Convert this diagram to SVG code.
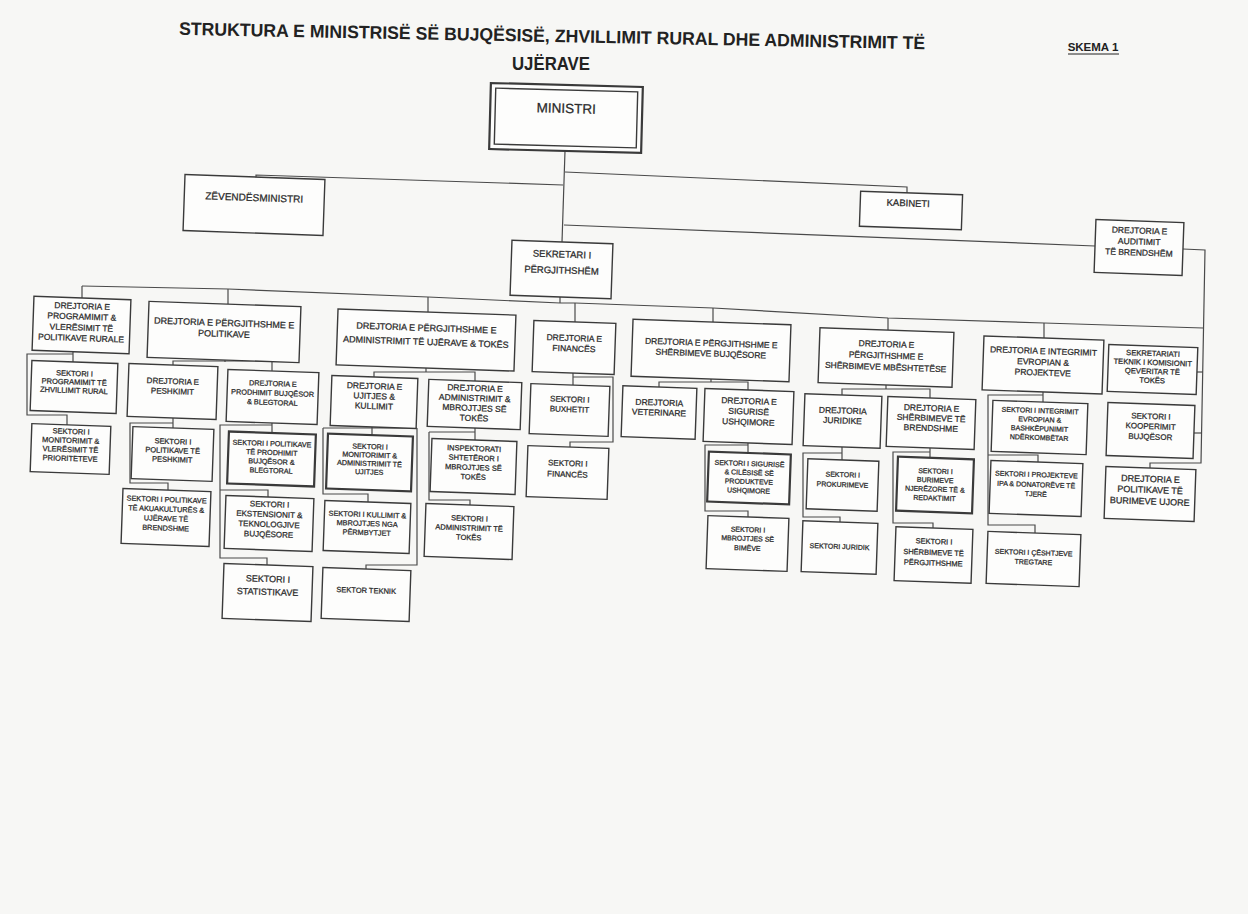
<svg xmlns="http://www.w3.org/2000/svg" width="1248" height="914" viewBox="0 0 1248 914">
<style>
.bg{fill:#f7f7f5}
.box{fill:#fdfdfc;stroke:#3a3a3a;stroke-width:1.4}
.thick{stroke-width:2.2}
.ln{fill:none;stroke:#4a4a4a;stroke-width:1.2}
text{font-family:"Liberation Sans",Arial,sans-serif;fill:#2a2a2a;text-anchor:middle;stroke:#2a2a2a;stroke-width:0.25}
.f13{font-size:13.5px}
.f10{font-size:10px}
.f95{font-size:9.5px}
.f9{font-size:9px}
.f85{font-size:8.5px}
.f8{font-size:8px}
.f76{font-size:7.6px}
.f75{font-size:7.5px}
.f73{font-size:7.3px}
.f72{font-size:7.2px}
.f7{font-size:7px}
.title{font-size:18px;font-weight:bold;fill:#222;stroke:none}
</style>
<rect class="bg" x="0" y="0" width="1248" height="914"/>

<g id="title">
<text class="title" x="552" y="42" transform="rotate(1.1 552 42)" textLength="746" lengthAdjust="spacingAndGlyphs">STRUKTURA E MINISTRISË SË BUJQËSISË, ZHVILLIMIT RURAL DHE ADMINISTRIMIT TË</text>
<text class="title" x="551" y="70" textLength="78" lengthAdjust="spacingAndGlyphs">UJËRAVE</text>
<text x="1093" y="51" style="font-size:11.5px;font-weight:bold;fill:#222;stroke:none">SKEMA 1</text>
<line x1="1068" y1="54" x2="1119" y2="54" stroke="#222" stroke-width="1"/>
</g>

<g id="connectors" class="ln">
<path d="M565,151 L562,242"/>
<path d="M563,185 L256,175 V177"/>
<path d="M565,172 L907,187 V193"/>
<path d="M564,225 L1095,246"/>
<path d="M1183,249 L1205,250 L1201,463 H1150 V468"/>
<path d="M1197,372 H1203"/>
<path d="M1194,433 H1202"/>
<path d="M560,297 V303"/>
<path d="M82,286 L228,289 L428,297 L560,303 L575,303 L713,308 L888,318 L1044,323 L1203,328"/>
<path d="M82,286 V298"/>
<path d="M228,289 V304"/>
<path d="M428,297 V312"/>
<path d="M575,303 V322"/>
<path d="M713,308 V322"/>
<path d="M888,318 V330"/>
<path d="M1044,323 V338"/>
<path d="M73,352 V362 M73,354 H27 V415 H67 V425"/>
<path d="M225,360 V362 M173,365 V361 H272 V371"/>
<path d="M173,418 V428 M173,423 H130 V483 H168 V490"/>
<path d="M272,423 V433 M272,425 H220 V558 H267 V565 M220,490 H268 V497"/>
<path d="M426,368 V372 M374,377 V372 H475 V381"/>
<path d="M372,427 V435 M323,428 H417 M323,428 V494 H368 V502 M417,428 V565 H366 V569"/>
<path d="M475,428 V440 M429,432 H475 M429,432 V500 H470 V505"/>
<path d="M573,373 V385 M573,377 H613 V442 H570 V447"/>
<path d="M711,379 V382 M659,387 V382 H748 V390"/>
<path d="M748,443 V453 M748,445 H705 V511 H748 V517"/>
<path d="M886,385 V389 M842,395 V389 H930 V398"/>
<path d="M842,447 V460 M842,453 H803 V517 H840 V522"/>
<path d="M930,448 V458 M930,452 H893 V523 H933 V528"/>
<path d="M1043,392 V402 M1043,395 H988 V525 H1035 V533 M988,455 H1038 V462"/>
</g>

<g id="n_min" transform="rotate(1.5 566 118)">
<rect class="box thick" x="490" y="85" width="152" height="66"/>
<rect class="box" x="495" y="90" width="142" height="56"/>
<text class="f13" x="566" y="113">MINISTRI</text>
</g>
<g id="n_zev" transform="rotate(2 254 205)">
<rect class="box" x="184" y="177" width="140" height="56"/>
<text class="f10" x="254" y="201">ZËVENDËSMINISTRI</text>
</g>
<g id="n_kab" transform="rotate(2 911 210.5)">
<rect class="box" x="860" y="193" width="102" height="35"/>
<text class="f95" x="908" y="206.5">KABINETI</text>
</g>
<g id="n_sek" transform="rotate(2 561.5 269.5)">
<rect class="box" x="511" y="242" width="101" height="55"/>
<text class="f95" x="561.5" y="257.5">SEKRETARI I</text>
<text class="f95" x="561.5" y="273.5">PËRGJITHSHËM</text>
</g>
<g id="n_aud" transform="rotate(2 1139 247.5)">
<rect class="box" x="1095" y="221" width="88" height="53"/>
<text class="f85" x="1139" y="233.5">DREJTORIA E</text>
<text class="f85" x="1139" y="244.5">AUDITIMIT</text>
<text class="f85" x="1139" y="255.5">TË BRENDSHËM</text>
</g>

<g id="n_d1" transform="rotate(2 81.5 325)">
<rect class="box" x="33" y="298" width="97" height="54"/>
<text class="f85" x="81.5" y="309">DREJTORIA E</text>
<text class="f85" x="81.5" y="319.5">PROGRAMIMIT &amp;</text>
<text class="f85" x="81.5" y="330.5">VLERËSIMIT TË</text>
<text class="f85" x="81.5" y="341">POLITIKAVE RURALE</text>
</g>
<g id="n_d1a" transform="rotate(2 74 387)">
<rect class="box" x="31" y="362" width="86" height="50"/>
<text class="f75" x="74" y="376">SEKTORI I</text>
<text class="f75" x="74" y="384.5">PROGRAMIMIT TË</text>
<text class="f75" x="74" y="393">ZHVILLIMIT RURAL</text>
</g>
<g id="n_d1b" transform="rotate(2 70.5 449)">
<rect class="box" x="31" y="425" width="79" height="48"/>
<text class="f75" x="70.5" y="434">SEKTORI I</text>
<text class="f75" x="70.5" y="443">MONITORIMIT &amp;</text>
<text class="f75" x="70.5" y="452">VLERËSIMIT TË</text>
<text class="f75" x="70.5" y="461">PRIORITETEVE</text>
</g>

<g id="n_d2" transform="rotate(2 224 332)">
<rect class="box" x="148" y="304" width="152" height="56"/>
<text class="f9" x="224" y="326">DREJTORIA E PËRGJITHSHME E</text>
<text class="f9" x="224" y="337">POLITIKAVE</text>
</g>
<g id="n_d2a" transform="rotate(2 172.5 391.5)">
<rect class="box" x="128" y="365" width="89" height="53"/>
<text class="f8" x="172.5" y="384">DREJTORIA E</text>
<text class="f8" x="172.5" y="394">PESHKIMIT</text>
</g>
<g id="n_d2a1" transform="rotate(2 172.5 454)">
<rect class="box" x="132" y="428" width="81" height="52"/>
<text class="f75" x="172.5" y="444">SEKTORI I</text>
<text class="f75" x="172.5" y="453">POLITIKAVE TË</text>
<text class="f75" x="172.5" y="462">PESHKIMIT</text>
</g>
<g id="n_d2a2" transform="rotate(2 166 517.5)">
<rect class="box" x="122" y="490" width="88" height="55"/>
<text class="f73" x="166" y="502">SEKTORI I POLITIKAVE</text>
<text class="f73" x="166" y="511.5">TË AKUAKULTURËS &amp;</text>
<text class="f73" x="166" y="521">UJËRAVE TË</text>
<text class="f73" x="166" y="530.5">BRENDSHME</text>
</g>
<g id="n_d2b" transform="rotate(2 272.5 397)">
<rect class="box" x="227" y="371" width="91" height="52"/>
<text class="f73" x="272.5" y="386">DREJTORIA E</text>
<text class="f73" x="272.5" y="395.5">PRODHIMIT BUJQËSOR</text>
<text class="f73" x="272.5" y="405">&amp; BLEGTORAL</text>
</g>
<g id="n_d2b1" transform="rotate(2 271.5 459)">
<rect class="box thick" x="228" y="433" width="87" height="52"/>
<text class="f72" x="271.5" y="446">SEKTORI I POLITIKAVE</text>
<text class="f72" x="271.5" y="455">TË PRODHIMIT</text>
<text class="f72" x="271.5" y="464">BUJQËSOR &amp;</text>
<text class="f72" x="271.5" y="473">BLEGTORAL</text>
</g>
<g id="n_d2b2" transform="rotate(2 269 523.5)">
<rect class="box" x="225" y="497" width="88" height="53"/>
<text class="f8" x="269" y="507">SEKTORI I</text>
<text class="f8" x="269" y="517">EKSTENSIONIT &amp;</text>
<text class="f8" x="269" y="527">TEKNOLOGJIVE</text>
<text class="f8" x="269" y="537">BUJQËSORE</text>
</g>
<g id="n_d2b3" transform="rotate(2 267.5 592.5)">
<rect class="box" x="223" y="565" width="89" height="55"/>
<text class="f9" x="267.5" y="582">SEKTORI I</text>
<text class="f9" x="267.5" y="595">STATISTIKAVE</text>
</g>

<g id="n_d3" transform="rotate(2 426 340)">
<rect class="box" x="337" y="312" width="178" height="56"/>
<text class="f9" x="426" y="331">DREJTORIA E PËRGJITHSHME E</text>
<text class="f9" x="426" y="345">ADMINISTRIMIT TË UJËRAVE &amp; TOKËS</text>
</g>
<g id="n_d3a" transform="rotate(2 374 402)">
<rect class="box" x="331" y="377" width="86" height="50"/>
<text class="f85" x="374" y="389">DREJTORIA E</text>
<text class="f85" x="374" y="399">UJITJES &amp;</text>
<text class="f85" x="374" y="409">KULLIMIT</text>
</g>
<g id="n_d3a1" transform="rotate(2 369.5 462.5)">
<rect class="box thick" x="327" y="435" width="85" height="55"/>
<text class="f72" x="369.5" y="449">SEKTORI I</text>
<text class="f72" x="369.5" y="457.5">MONITORIMIT &amp;</text>
<text class="f72" x="369.5" y="466">ADMINISTRIMIT TË</text>
<text class="f72" x="369.5" y="474.5">UJITJES</text>
</g>
<g id="n_d3a2" transform="rotate(2 367 527)">
<rect class="box" x="324" y="502" width="86" height="50"/>
<text class="f73" x="367" y="517">SEKTORI I KULLIMIT &amp;</text>
<text class="f73" x="367" y="526">MBROJTJES NGA</text>
<text class="f73" x="367" y="535">PËRMBYTJET</text>
</g>
<g id="n_d3a3" transform="rotate(2 366 594.5)">
<rect class="box" x="322" y="569" width="88" height="51"/>
<text class="f75" x="366" y="593">SEKTOR TEKNIK</text>
</g>
<g id="n_d3b" transform="rotate(2 474.5 404.5)">
<rect class="box" x="428" y="381" width="93" height="47"/>
<text class="f85" x="474.5" y="391">DREJTORIA E</text>
<text class="f85" x="474.5" y="401">ADMINISTRIMIT &amp;</text>
<text class="f85" x="474.5" y="411">MBROJTJES SË</text>
<text class="f85" x="474.5" y="421">TOKËS</text>
</g>
<g id="n_d3b1" transform="rotate(2 473.5 466.5)">
<rect class="box" x="431" y="440" width="85" height="53"/>
<text class="f75" x="473.5" y="451">INSPEKTORATI</text>
<text class="f75" x="473.5" y="460.5">SHTETËROR I</text>
<text class="f75" x="473.5" y="470">MBROJTJES SË</text>
<text class="f75" x="473.5" y="479.5">TOKËS</text>
</g>
<g id="n_d3b2" transform="rotate(2 469 531.5)">
<rect class="box" x="425" y="505" width="88" height="53"/>
<text class="f75" x="469" y="521">SEKTORI I</text>
<text class="f75" x="469" y="530.5">ADMINISTRIMIT TË</text>
<text class="f75" x="469" y="540">TOKËS</text>
</g>

<g id="n_d4" transform="rotate(2 574 347.5)">
<rect class="box" x="533" y="322" width="82" height="51"/>
<text class="f85" x="574" y="341">DREJTORIA E</text>
<text class="f85" x="574" y="351.5">FINANCËS</text>
</g>
<g id="n_d4a" transform="rotate(2 569.5 410)">
<rect class="box" x="530" y="385" width="79" height="50"/>
<text class="f8" x="569.5" y="402">SEKTORI I</text>
<text class="f8" x="569.5" y="412">BUXHETIT</text>
</g>
<g id="n_d4b" transform="rotate(2 567.5 472.5)">
<rect class="box" x="527" y="447" width="81" height="51"/>
<text class="f8" x="567.5" y="466">SEKTORI I</text>
<text class="f8" x="567.5" y="477">FINANCËS</text>
</g>

<g id="n_d5" transform="rotate(2 711 350.5)">
<rect class="box" x="632" y="322" width="158" height="57"/>
<text class="f85" x="711" y="346">DREJTORIA E PËRGJITHSHME E</text>
<text class="f85" x="711" y="356.5">SHËRBIMEVE BUJQËSORE</text>
</g>
<g id="n_d5a" transform="rotate(2 659 412.5)">
<rect class="box" x="622" y="387" width="74" height="51"/>
<text class="f85" x="659" y="405.5">DREJTORIA</text>
<text class="f85" x="659" y="415.5">VETERINARE</text>
</g>
<g id="n_d5b" transform="rotate(2 748.5 416.5)">
<rect class="box" x="704" y="390" width="89" height="53"/>
<text class="f85" x="748.5" y="404">DREJTORIA E</text>
<text class="f85" x="748.5" y="414.5">SIGURISË</text>
<text class="f85" x="748.5" y="425">USHQIMORE</text>
</g>
<g id="n_d5b1" transform="rotate(2 749 478)">
<rect class="box thick" x="708" y="453" width="82" height="50"/>
<text class="f7" x="749" y="466">SEKTORI I SIGURISË</text>
<text class="f7" x="749" y="475">&amp; CILËSISË SË</text>
<text class="f7" x="749" y="484">PRODUKTEVE</text>
<text class="f7" x="749" y="493">USHQIMORE</text>
</g>
<g id="n_d5b2" transform="rotate(2 747.5 543.5)">
<rect class="box" x="707" y="517" width="81" height="53"/>
<text class="f7" x="747.5" y="532">SEKTORI I</text>
<text class="f7" x="747.5" y="541">MBROJTJES SË</text>
<text class="f7" x="747.5" y="550.5">BIMËVE</text>
</g>

<g id="n_d6" transform="rotate(2 886 357.5)">
<rect class="box" x="819" y="330" width="134" height="55"/>
<text class="f85" x="886" y="347">DREJTORIA E</text>
<text class="f85" x="886" y="358.5">PËRGJITHSHME E</text>
<text class="f85" x="886" y="370">SHËRBIMEVE MBËSHTETËSE</text>
</g>
<g id="n_d6a" transform="rotate(2 842.5 421)">
<rect class="box" x="804" y="395" width="77" height="52"/>
<text class="f85" x="842.5" y="413.5">DREJTORIA</text>
<text class="f85" x="842.5" y="423.5">JURIDIKE</text>
</g>
<g id="n_d6a1" transform="rotate(2 842.5 485)">
<rect class="box" x="807" y="460" width="71" height="50"/>
<text class="f7" x="842.5" y="477">SEKTORI I</text>
<text class="f7" x="842.5" y="487">PROKURIMEVE</text>
</g>
<g id="n_d6a2" transform="rotate(2 839.5 547.5)">
<rect class="box" x="802" y="522" width="75" height="51"/>
<text class="f7" x="839.5" y="549">SEKTORI JURIDIK</text>
</g>
<g id="n_d6b" transform="rotate(2 931 423)">
<rect class="box" x="887" y="398" width="88" height="50"/>
<text class="f85" x="931" y="411">DREJTORIA E</text>
<text class="f85" x="931" y="421">SHËRBIMEVE TË</text>
<text class="f85" x="931" y="431">BRENDSHME</text>
</g>
<g id="n_d6b1" transform="rotate(2 935 485)">
<rect class="box thick" x="897" y="458" width="76" height="54"/>
<text class="f7" x="935" y="473.5">SEKTORI I</text>
<text class="f7" x="935" y="482.5">BURIMEVE</text>
<text class="f7" x="935" y="491.5">NJERËZORE TË &amp;</text>
<text class="f7" x="935" y="500.5">REDAKTIMIT</text>
</g>
<g id="n_d6b2" transform="rotate(2 933.5 555)">
<rect class="box" x="895" y="528" width="77" height="54"/>
<text class="f75" x="933.5" y="544">SEKTORI I</text>
<text class="f75" x="933.5" y="555">SHËRBIMEVE TË</text>
<text class="f75" x="933.5" y="565.5">PËRGJITHSHME</text>
</g>

<g id="n_d7" transform="rotate(2 1043 365)">
<rect class="box" x="983" y="338" width="120" height="54"/>
<text class="f85" x="1043" y="354">DREJTORIA E INTEGRIMIT</text>
<text class="f85" x="1043" y="365">EVROPIAN &amp;</text>
<text class="f85" x="1043" y="375.5">PROJEKTEVE</text>
</g>
<g id="n_d7a" transform="rotate(2 1039.5 427.5)">
<rect class="box" x="992" y="402" width="95" height="51"/>
<text class="f7" x="1039.5" y="413">SEKTORI I INTEGRIMIT</text>
<text class="f7" x="1039.5" y="422">EVROPIAN &amp;</text>
<text class="f7" x="1039.5" y="431">BASHKËPUNIMIT</text>
<text class="f7" x="1039.5" y="440">NDËRKOMBËTAR</text>
</g>
<g id="n_d7b" transform="rotate(2 1036 488.5)">
<rect class="box" x="990" y="462" width="92" height="53"/>
<text class="f7" x="1036" y="477">SEKTORI I PROJEKTEVE</text>
<text class="f7" x="1036" y="487">IPA &amp; DONATORËVE TË</text>
<text class="f7" x="1036" y="496.5">TJERË</text>
</g>
<g id="n_d7c" transform="rotate(2 1033.5 559)">
<rect class="box" x="987" y="533" width="93" height="52"/>
<text class="f7" x="1033.5" y="555">SEKTORI I ÇËSHTJEVE</text>
<text class="f7" x="1033.5" y="564.5">TREGTARE</text>
</g>

<g id="n_d8" transform="rotate(2 1152.5 369.5)">
<rect class="box" x="1108" y="346" width="89" height="47"/>
<text class="f76" x="1152.5" y="356">SEKRETARIATI</text>
<text class="f76" x="1152.5" y="365">TEKNIK I KOMISIONIT</text>
<text class="f76" x="1152.5" y="374">QEVERITAR TË</text>
<text class="f76" x="1152.5" y="383">TOKËS</text>
</g>
<g id="n_d9" transform="rotate(2 1150.5 430.5)">
<rect class="box" x="1107" y="404" width="87" height="53"/>
<text class="f8" x="1150.5" y="419">SEKTORI I</text>
<text class="f8" x="1150.5" y="429">KOOPERIMIT</text>
<text class="f8" x="1150.5" y="439.5">BUJQËSOR</text>
</g>
<g id="n_d10" transform="rotate(2 1150 494)">
<rect class="box" x="1105" y="468" width="90" height="52"/>
<text class="f9" x="1150" y="482">DREJTORIA E</text>
<text class="f9" x="1150" y="493">POLITIKAVE TË</text>
<text class="f9" x="1150" y="504.5">BURIMEVE UJORE</text>
</g>
</svg>
